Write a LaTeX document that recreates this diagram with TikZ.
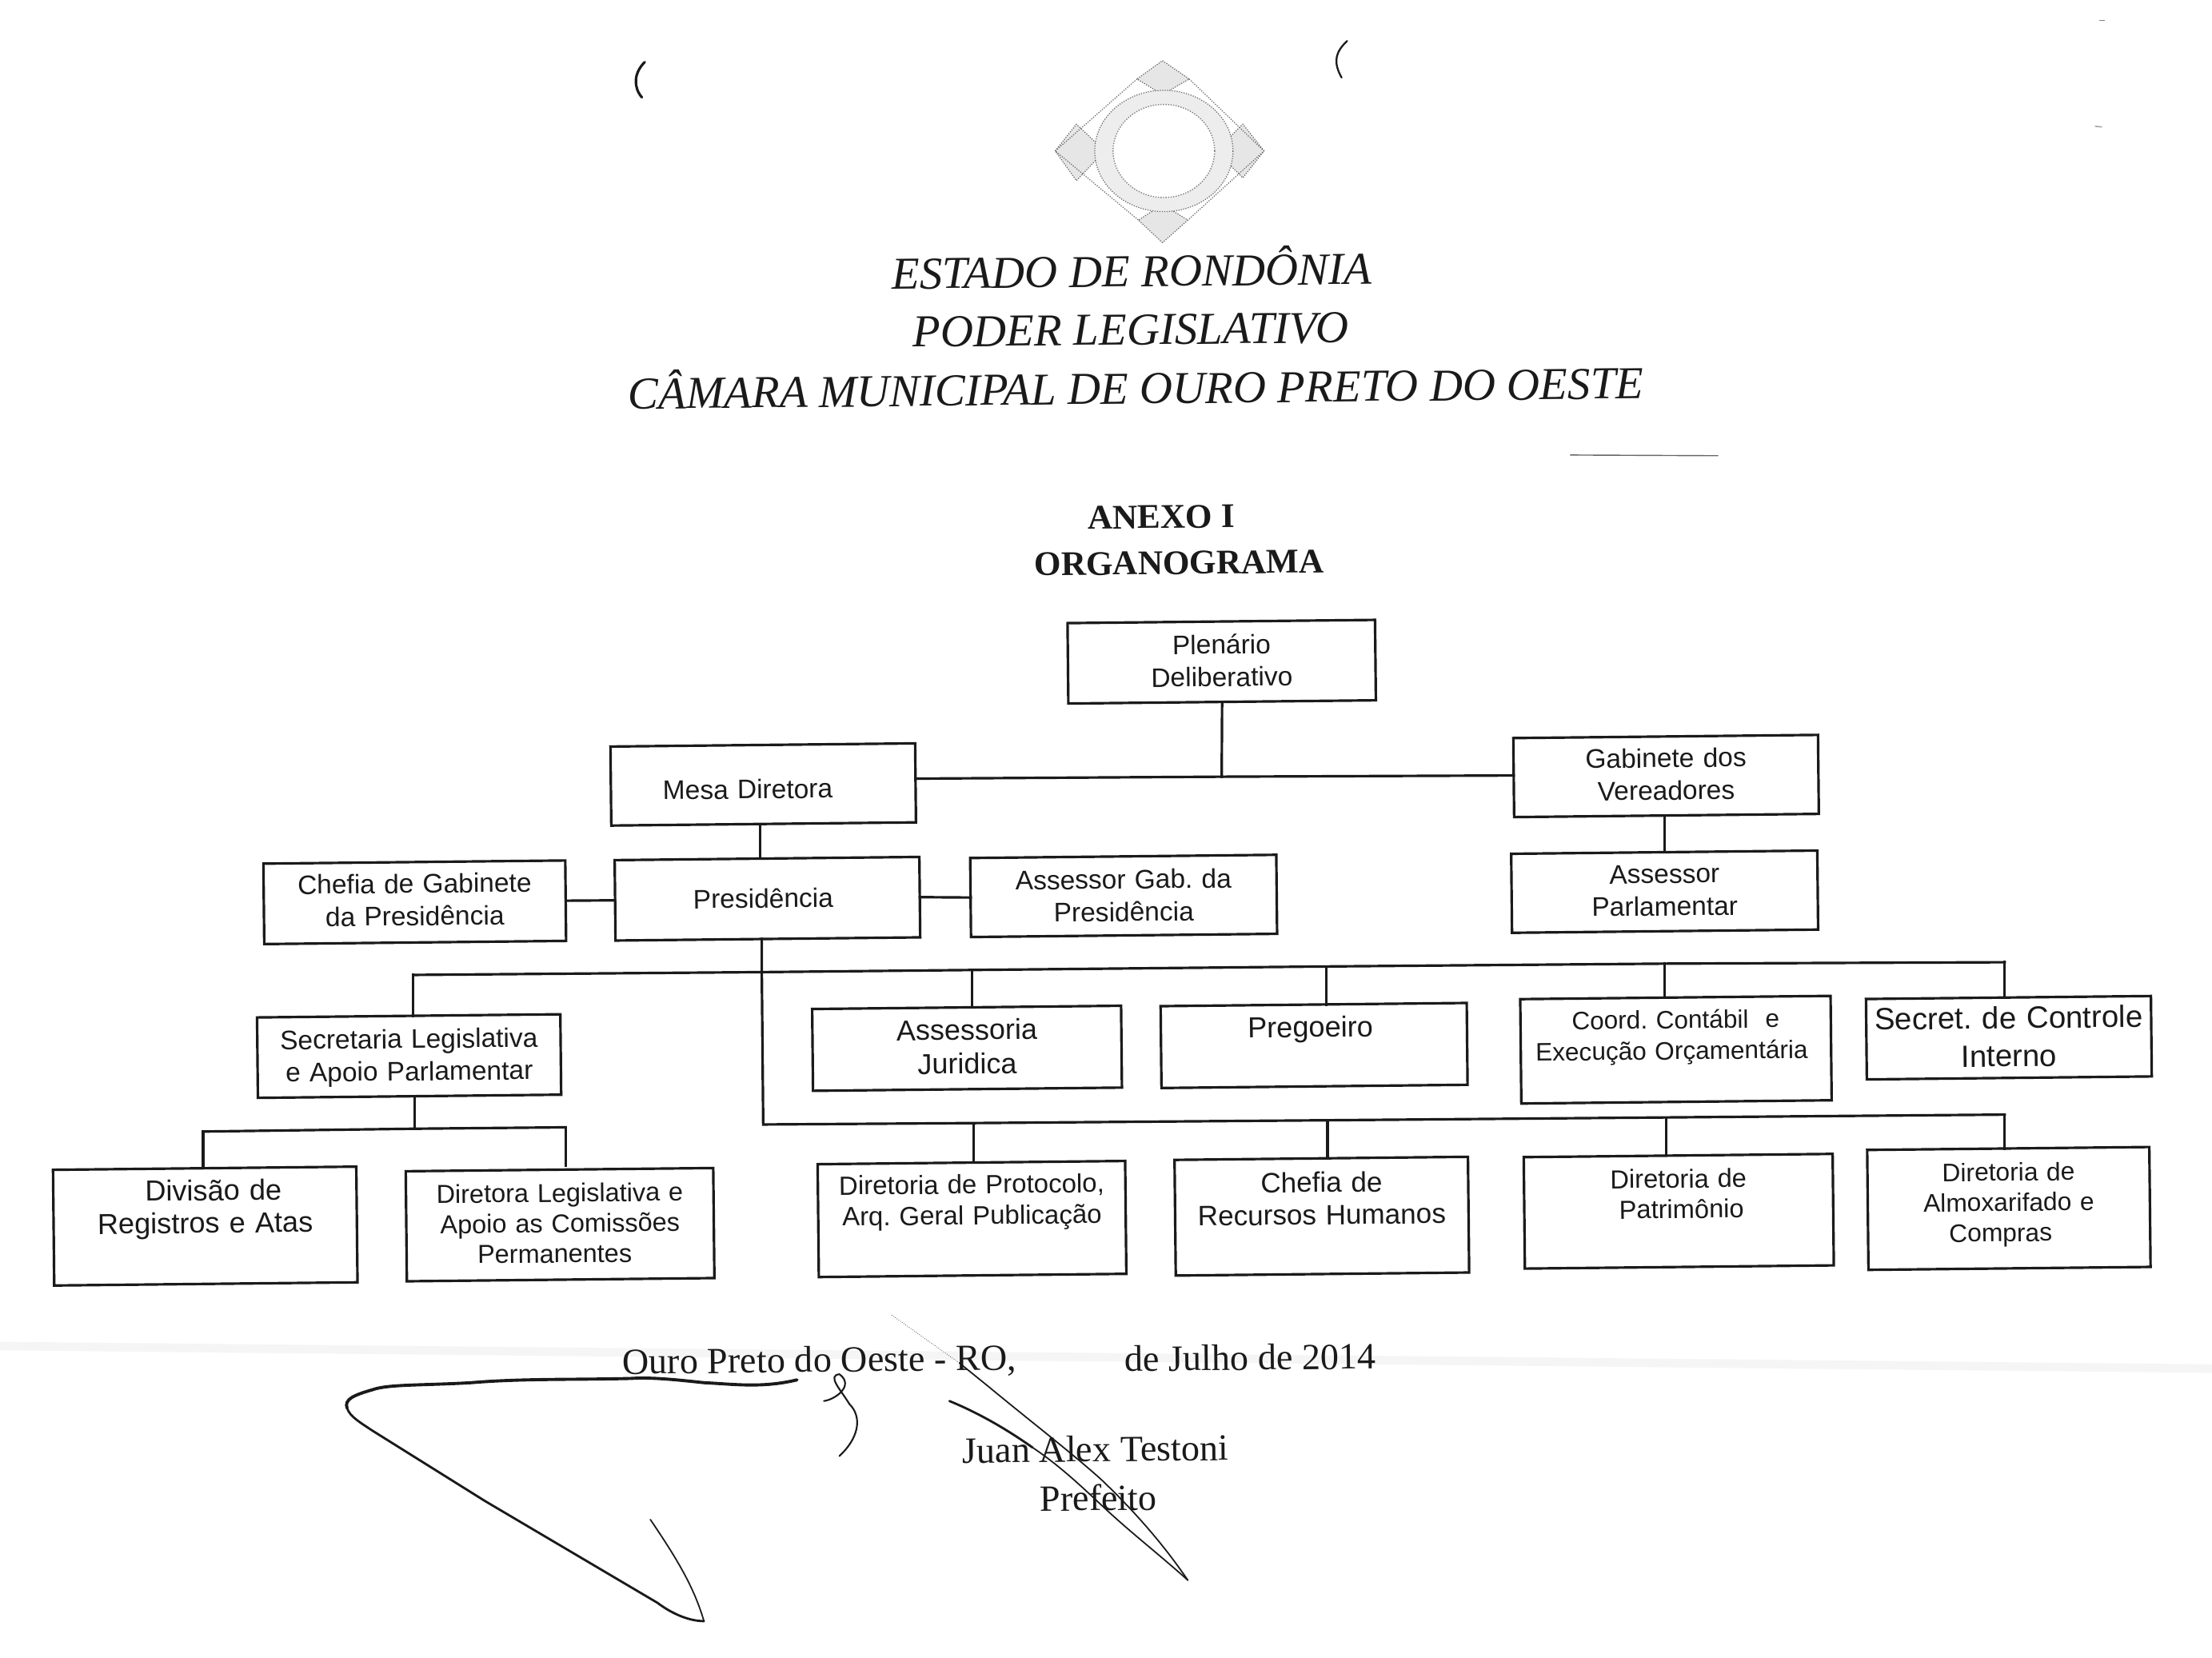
\documentclass[tikz,border=0pt]{standalone}
\usepackage{fontspec}
\setmainfont{Liberation Serif}
\newfontfamily\arialf{Liberation Sans}
\newcommand{\fz}[2]{\fontsize{#1}{#2}\selectfont}
\newcommand{\LL}[2]{#2\hspace*{#1pt}}
\newcommand{\RR}[2]{\hspace*{#1pt}#2}
\definecolor{ink}{HTML}{1A1A1A}
\definecolor{stip}{HTML}{E6E6E6}
\tikzset{
  bx/.style n args={3}{draw=ink, line width=1.8pt, inner sep=0pt, outer sep=0pt, rotate=0.6,
    text=ink, align=center, font=\arialf\frenchspacing\fz{19}{23},
    text width=#1pt, text height=#3pt, text depth={(#2-#3)*1pt}},
  wire/.style={draw=ink, line width=1.8pt, line cap=rect},
  head/.style={text=ink, rotate=0.6, inner sep=0pt, anchor=base west, font=\itshape\fz{32.3}{38}},
  annex/.style={text=ink, rotate=0.6, inner sep=0pt, anchor=base west, font=\bfseries\fz{24.5}{30}},
  foot/.style={text=ink, rotate=0.6, inner sep=0pt, anchor=base west, font=\fz{26.2}{30}},
  pen/.style={draw=ink, line cap=round, line join=round},
  logoline/.style={draw=black!60, line width=0.7pt, densely dotted},
}
\begin{document}
\begin{tikzpicture}[x=1pt,y=-1pt]
\useasboundingbox (0,0) rectangle (1568,1175);
\fill[white] (0,0) rectangle (1568,1175);
% scan band and specks
\draw[black!4, line width=6pt] (0,954) -- (1568,970);
\draw[black!60, line width=0.8pt] (1113,322.5) -- (1218,323);
\draw[black!50, line width=0.8pt] (1488,14.5) -- (1492,14.5);
\draw[black!40, line width=0.8pt] (1485,89.5) -- (1490,90);
% parentheses
\draw[pen, line width=1.8pt] (457,44) .. controls (449,52) and (449,62) .. (455,69);
\draw[pen, line width=1.3pt] (955,29) .. controls (945,38) and (946,46) .. (951,55);
% emblem
\filldraw[fill=stip, logoline] (824,43) -- (843,56) -- (824,67) -- (806,56) -- cycle;
\filldraw[fill=stip, logoline] (824,172) -- (807,156) -- (824,145) -- (842,156) -- cycle;
\filldraw[fill=stip, logoline] (748,107) -- (763,88) -- (783,107) -- (763,128) -- cycle;
\filldraw[fill=stip, logoline] (896,107) -- (881,88) -- (862,107) -- (881,126) -- cycle;
\draw[logoline] (806,56) -- (748,107) -- (807,156);
\draw[logoline] (843,56) -- (896,107) -- (842,156);
\filldraw[fill=black!7, logoline] (825,107) ellipse [x radius=49, y radius=43];
\filldraw[fill=white, draw=black!50, line width=0.8pt, densely dotted] (825,107) ellipse [x radius=36, y radius=33];
% titles
\node[head] (t1) at (632,205) {ESTADO DE RONDÔNIA};
\node[head] (t2) at (647,246) {PODER LEGISLATIVO};
\node[head] (t3) at (445,290) {CÂMARA MUNICIPAL DE OURO PRETO DO OESTE};
\node[annex] (a1) at (771,375) {ANEXO I};
\node[annex] (a2) at (733,408) {ORGANOGRAMA};
% boxes
\node[bx={218}{57}{23}] (plen) at (866,469) {Plenário\\Deliberativo};
\node[bx={216}{56}{38}] (mesa) at (541,556) {\LL{22}{Mesa Diretora}};
\node[bx={216}{56}{22}] (gab) at (1181,550) {Gabinete dos\\Vereadores};
\node[bx={217}{56}{22}] (aparl) at (1180,632) {Assessor\\Parlamentar};
\node[bx={214}{57}{22}] (chefgab) at (294,639.5) {Chefia de Gabinete\\da Presidência};
\node[bx={216}{57}{35}] (pres) at (544,637) {\LL{6}{Presidência}};
\node[bx={217}{56}{23}] (agab) at (796.5,635) {Assessor Gab. da\\Presidência};
\node[bx={215}{57}{23}] (secl) at (290,748.5) {Secretaria Legislativa\\e Apoio Parlamentar};
\node[bx={219}{58}{23}, font=\arialf\frenchspacing\fz{20.4}{24}] (ajur) at (685.5,743) {Assessoria\\Juridica};
\node[bx={217}{58}{23}, font=\arialf\frenchspacing\fz{20.5}{24}] (preg) at (931.5,741) {\LL{5}{Pregoeiro}};
\node[bx={220}{74}{22}, font=\arialf\frenchspacing\fz{17.9}{22}] (coord) at (1188,744) {\LL{6}{Coord. Contábil\ \ e}\\\LL{6}{Execução Orçamentária}};
\node[bx={202}{57}{22}, font=\arialf\frenchspacing\fz{21.8}{27}] (scont) at (1424,735.5) {Secret. de Controle\\Interno};
\node[bx={215}{82}{23}, font=\arialf\frenchspacing\fz{20.5}{23}] (div) at (145.5,869) {\RR{12}{Divisão de}\\Registros e Atas};
\node[bx={218}{78}{23}, font=\arialf\frenchspacing\fz{18.4}{21.5}] (dleg) at (397,868) {\LL{8}{Diretora Legislativa e}\\\LL{8}{Apoio as Comissões}\\\LL{8}{Permanentes}};
\node[bx={218}{80}{22}, font=\arialf\frenchspacing\fz{18.7}{22}] (dprot) at (689,864) {Diretoria de Protocolo,\\Arq. Geral Publicação};
\node[bx={208}{82}{24}, font=\arialf\frenchspacing\fz{19.9}{23}] (crh) at (937,862) {\LL{4}{Chefia de}\\Recursos Humanos};
\node[bx={219}{79}{23}, font=\arialf\frenchspacing\fz{18.5}{21.5}] (patr) at (1190,858.5) {\LL{14}{Diretoria de}\\\RR{4}{Patrimônio}};
\node[bx={200}{85}{23}, font=\arialf\frenchspacing\fz{18}{21.5}] (almox) at (1424,856.5) {\LL{12}{Diretoria de}\\\LL{12}{Almoxarifado e}\\\LL{12}{Compras}};
% junction points
\coordinate (j0) at (866,550.5);
\coordinate (jm) at (539,590);
\coordinate (jg) at (1180,590);
\coordinate (b1l) at (293,691);
\coordinate (b1t) at (540,689);
\coordinate (b1a) at (689,687.5);
\coordinate (b1b) at (940,685);
\coordinate (b1c) at (1180,683);
\coordinate (b1r) at (1421,682);
\coordinate (b2l) at (541,797);
\coordinate (b2a) at (690,796);
\coordinate (b2b) at (941,794);
\coordinate (b2c) at (1181,792);
\coordinate (b2r) at (1421,790);
\coordinate (b3j) at (294,800);
\coordinate (b3l) at (144,802);
\coordinate (b3r) at (401,799);
% connectors
\draw[wire] (plen.south) -- (j0);
\draw[wire] (mesa.east) ++(0,-3) -- (j0);
\draw[wire] (j0) -- ([yshift=1.5pt]gab.west);
\draw[wire] (jm |- mesa.south) -- (jm |- pres.north);
\draw[wire] (jg |- gab.south) -- (jg |- aparl.north);
\draw[wire] (chefgab.east) -- (pres.west);
\draw[wire] (pres.east) -- (agab.west);
\draw[wire] (b1l) -- (b1t) -- (b1a) -- (b1b) -- (b1c) -- (b1r);
\draw[wire] (pres.south -| b1t) -- (b1t) -- (b2l) -- (b2a) -- (b2b) -- (b2c) -- (b2r);
\draw[wire] (b1l) -- (b1l |- secl.north);
\draw[wire] (b1a) -- (b1a |- ajur.north);
\draw[wire] (b1b) -- (b1b |- preg.north);
\draw[wire] (b1c) -- (b1c |- coord.north);
\draw[wire] (b1r) -- (b1r |- scont.north);
\draw[wire] (b2a) -- (b2a |- dprot.north);
\draw[wire] (b2b) -- (b2b |- crh.north);
\draw[wire] (b2c) -- (b2c |- patr.north);
\draw[wire] (b2r) -- (b2r |- almox.north);
\draw[wire] (secl.south -| b3j) -- (b3j);
\draw[wire] (b3l) -- (b3j) -- (b3r);
\draw[wire] (b3l) -- (b3l |- div.north);
\draw[wire] (b3r) -- (401,826);
% footer
\node[foot] (f1) at (441,974) {Ouro Preto do Oeste - RO,};
\node[foot] (f2) at (797,972) {de Julho de 2014};
\node[foot] (f3) at (682,1037) {Juan Alex Testoni};
\node[foot] (f4) at (737,1071) {Prefeito};
% signature
\draw[pen, line width=2.2pt] (565,978) .. controls (540,984) and (520,981) .. (499,980)
  .. controls (480,978) and (462,976) .. (447,977)
  .. controls (405,978) and (370,977) .. (334,980)
  .. controls (300,982) and (275,981) .. (264,985)
  .. controls (250,989) and (244,992) .. (246,998);
\draw[pen, line width=1.6pt] (246,998) .. controls (248,1004) and (255,1008) .. (264,1014)
  -- (344,1064) -- (466,1136) .. controls (478,1145) and (490,1149) .. (499,1149);
\draw[pen, line width=1pt] (499,1149) .. controls (492,1125) and (480,1105) .. (461,1077);
\draw[pen, line width=1.2pt] (584,993) .. controls (592,992) and (606,982) .. (595,974)
  .. controls (586,975) and (596,985) .. (602,995)
  .. controls (612,1005) and (608,1020) .. (595,1032);
\draw[draw=black!60, line width=0.5pt, densely dotted] (632,932) -- (680,966);
\draw[pen, line width=1pt] (680,966) -- (701,983) .. controls (730,1007) and (760,1030) .. (781,1049)
  .. controls (805,1072) and (825,1095) .. (842,1120);
\draw[pen, line width=1.6pt] (673,993) .. controls (695,1002) and (715,1014) .. (732,1026);
\draw[pen, line width=1pt] (732,1026) .. controls (750,1038) and (765,1052) .. (781,1067)
  .. controls (800,1085) and (822,1102) .. (842,1120);
\end{tikzpicture}
\end{document}
